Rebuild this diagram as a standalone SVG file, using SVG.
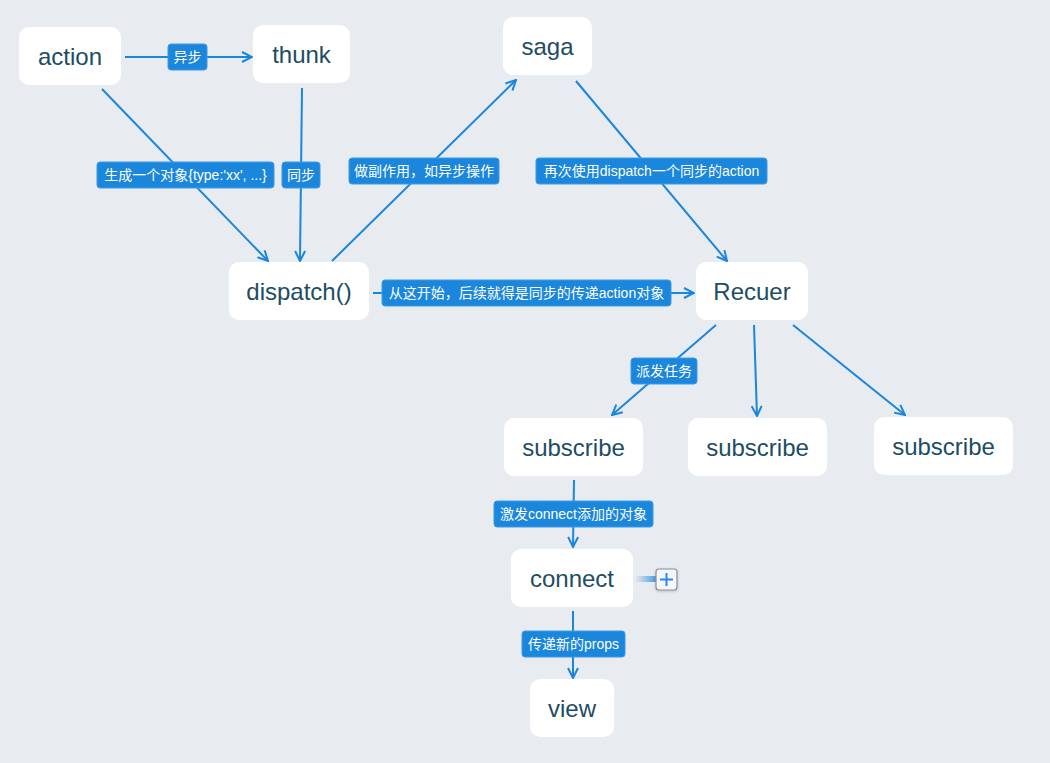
<svg xmlns="http://www.w3.org/2000/svg" width="1050" height="763" viewBox="0 0 1050 763">
<defs>
<style>
.node rect{fill:#ffffff;}
.node text{font-family:"Liberation Sans","Noto Sans CJK SC",sans-serif;font-size:24px;fill:#1d4d62;text-anchor:middle;dominant-baseline:central;}
.lbl rect{fill:#1a86dc;stroke:#3f9be6;stroke-width:1;}
.lbl text{font-family:"Liberation Sans","Noto Sans CJK SC",sans-serif;font-size:14px;fill:#ffffff;text-anchor:middle;dominant-baseline:central;}
.edge{stroke:#1a86dc;stroke-width:2;fill:none;marker-end:url(#arr);}
</style>
<marker id="arr" viewBox="0 0 12 12" refX="11" refY="6" markerWidth="12" markerHeight="12" markerUnits="userSpaceOnUse" orient="auto">
<path d="M1,1 L11,6 L1,11" fill="none" stroke="#1a86dc" stroke-width="2"/>
</marker>
<linearGradient id="fade" x1="0" y1="0" x2="1" y2="0">
<stop offset="0" stop-color="#1a86dc" stop-opacity="0"/>
<stop offset="1" stop-color="#1a86dc" stop-opacity="0.8"/>
</linearGradient>
<filter id="sh" x="-50%" y="-50%" width="200%" height="200%">
<feDropShadow dx="0" dy="1" stdDeviation="1.5" flood-color="#000" flood-opacity="0.2"/>
</filter>
</defs>
<rect width="1050" height="763" fill="#e8ebef"/>
<g id="connectors">
<line class="edge" x1="125" y1="57" x2="252" y2="57"/>
<line class="edge" x1="102" y1="89" x2="268" y2="261"/>
<line class="edge" x1="302" y1="88" x2="300" y2="261"/>
<line class="edge" x1="332" y1="261" x2="516" y2="80"/>
<line class="edge" x1="576" y1="81" x2="727" y2="261"/>
<line class="edge" x1="373" y1="293" x2="694" y2="293"/>
<line class="edge" x1="716" y1="325" x2="612" y2="415"/>
<line class="edge" x1="754" y1="325" x2="757" y2="416"/>
<line class="edge" x1="793" y1="325" x2="905" y2="415"/>
<line class="edge" x1="574" y1="480" x2="573" y2="547"/>
<line class="edge" x1="573" y1="611" x2="573" y2="678"/>
</g>
<g id="labels">
<g class="lbl"><rect x="168" y="44" width="39" height="26" rx="3"/><text x="187.5" y="57">异步</text></g>
<g class="lbl"><rect x="97" y="162" width="177" height="26" rx="3"/><text x="185.5" y="175">生成一个对象{type:'xx', ...}</text></g>
<g class="lbl"><rect x="282" y="162" width="38" height="26" rx="3"/><text x="301" y="175">同步</text></g>
<g class="lbl"><rect x="349" y="158" width="150" height="26" rx="3"/><text x="424" y="171">做副作用，如异步操作</text></g>
<g class="lbl"><rect x="536" y="158" width="231" height="26" rx="3"/><text x="651.5" y="171">再次使用dispatch一个同步的action</text></g>
<g class="lbl"><rect x="382" y="280" width="289" height="26" rx="3"/><text x="526.5" y="293">从这开始，后续就得是同步的传递action对象</text></g>
<g class="lbl"><rect x="631" y="358" width="66" height="26" rx="3"/><text x="664" y="371">派发任务</text></g>
<g class="lbl"><rect x="494" y="501" width="159" height="26" rx="3"/><text x="573.5" y="514">激发connect添加的对象</text></g>
<g class="lbl"><rect x="522" y="631" width="103" height="26" rx="3"/><text x="573.5" y="644">传递新的props</text></g>
</g>
<g id="action" class="node"><rect x="19" y="27" width="102" height="58" rx="10"/><text x="70" y="56">action</text></g>
<g id="thunk" class="node"><rect x="253" y="25" width="97" height="58" rx="10"/><text x="301.5" y="54">thunk</text></g>
<g id="saga" class="node"><rect x="503" y="17" width="89" height="58" rx="10"/><text x="547.5" y="46">saga</text></g>
<g id="dispatch" class="node"><rect x="229" y="262" width="140" height="58" rx="10"/><text x="299" y="291">dispatch()</text></g>
<g id="recuer" class="node"><rect x="696" y="262" width="112" height="58" rx="10"/><text x="752" y="291">Recuer</text></g>
<g id="subscribe1" class="node"><rect x="504" y="418" width="139" height="58" rx="10"/><text x="573.5" y="447">subscribe</text></g>
<g id="subscribe2" class="node"><rect x="688" y="418" width="139" height="58" rx="10"/><text x="757.5" y="447">subscribe</text></g>
<g id="subscribe3" class="node"><rect x="874" y="417" width="139" height="58" rx="10"/><text x="943.5" y="446">subscribe</text></g>
<g id="connect" class="node"><rect x="511" y="549" width="122" height="58" rx="10"/><text x="572" y="578">connect</text>
<rect x="635" y="576" width="22" height="6" fill="url(#fade)" style="fill:url(#fade)"/>
</g>
<g id="connect-toggle">
<rect x="656" y="569" width="21" height="21" rx="3" fill="#f4f7fb" stroke="#8c8f93" stroke-width="1.2" filter="url(#sh)"/>
<path d="M666.5,573 V586 M660,579.5 H673" stroke="#2a8ae8" stroke-width="2"/>
</g>
<g id="view" class="node"><rect x="530" y="679" width="84" height="58" rx="10"/><text x="572" y="708">view</text></g>
</svg>
